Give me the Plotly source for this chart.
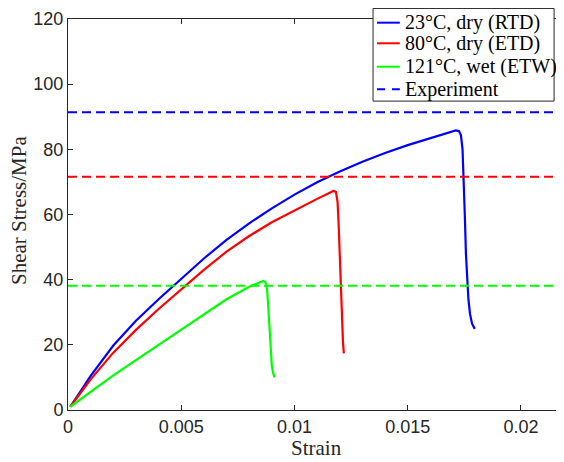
import plotly.graph_objects as go

# RTD (23°C, dry)
rtd_strain = [0.0001, 0.001, 0.002, 0.003, 0.004, 0.005, 0.006, 0.007, 0.008, 0.009, 0.010, 0.011, 0.012, 0.013, 0.014, 0.015, 0.016, 0.0168, 0.01712, 0.01726, 0.01735, 0.01742, 0.01747, 0.01752, 0.01757, 0.01762, 0.01768, 0.01775, 0.01784, 0.01796]
rtd_stress = [1.0, 10.5, 19.8, 27.4, 34.0, 40.4, 46.5, 52.2, 57.3, 61.9, 66.1, 69.9, 73.2, 76.2, 78.9, 81.3, 83.5, 85.1, 85.8, 85.6, 84.3, 80.0, 72.0, 60.0, 48.0, 40.0, 34.0, 29.5, 26.5, 24.9]

# ETD (80°C, dry)
etd_strain = [0.0001, 0.001, 0.002, 0.003, 0.004, 0.005, 0.006, 0.007, 0.008, 0.009, 0.010, 0.011, 0.0116, 0.01172, 0.01183, 0.0119, 0.01195, 0.012, 0.01204, 0.01209, 0.01214, 0.01218]
etd_stress = [1.0, 9.4, 17.6, 24.6, 31.0, 37.0, 43.0, 48.6, 53.4, 57.6, 61.3, 64.8, 66.8, 67.3, 66.9, 64.0, 57.0, 46.0, 38.0, 28.0, 21.0, 17.4]

# ETW (121°C, wet)
etw_strain = [0.0001, 0.001, 0.002, 0.003, 0.004, 0.005, 0.006, 0.007, 0.008, 0.0085, 0.00862, 0.00872, 0.00879, 0.00884, 0.00889, 0.00894, 0.009, 0.00906, 0.00912]
etw_stress = [1.0, 5.6, 10.6, 15.3, 20.0, 24.8, 29.5, 34.0, 37.8, 39.2, 39.6, 39.2, 37.0, 32.0, 25.0, 18.0, 13.5, 11.3, 10.0]

# Experimental strengths
exp_values = [91.4, 71.6, 38.1]
x_range = [0, 0.0219]

names = ["23°C, dry (RTD)", "80°C, dry (ETD)", "121°C, wet (ETW)"]
exp_name = "Experiment"
colors = ["#0000ff", "#ff0000", "#00ff00"]
curves = [(rtd_strain, rtd_stress), (etd_strain, etd_stress), (etw_strain, etw_stress)]

fig = go.Figure()
for (xs, ys), n, c in zip(curves, names, colors):
    fig.add_trace(go.Scatter(x=xs, y=ys, mode="lines", name=n, showlegend=False,
                             line=dict(color=c, width=2.2)))

for i, (v, c) in enumerate(zip(exp_values, colors)):
    fig.add_trace(go.Scatter(x=x_range, y=[v, v], mode="lines",
                             name=exp_name, showlegend=False,
                             line=dict(color=c, width=2, dash="9px,5px")))

axis_common = dict(
    showgrid=False, zeroline=False, showline=True, linecolor="#262626", linewidth=1,
    mirror="ticks", ticks="inside", ticklen=5, tickcolor="#262626", automargin=False,
    tickfont=dict(family="Liberation Sans, Arial", size=18, color="#262626"),
)

title_font = dict(family="Liberation Serif, Times New Roman", size=21, color="#262626")
legend_font = dict(family="Liberation Serif, Times New Roman", size=20, color="#000000")

# compact MATLAB-style legend box (paper coordinates)
leg_x0, leg_x1, leg_y0, leg_y1 = 0.615, 0.98, 0.79, 1.027
row_y = [0.9906, 0.9379, 0.878, 0.8202]
samp_x0, samp_x1, text_x = 0.623, 0.669, 0.675

shapes = [dict(type="rect", xref="paper", yref="paper", x0=leg_x0, x1=leg_x1, y0=leg_y0, y1=leg_y1,
               line=dict(color="#262626", width=1), fillcolor="white", layer="above")]
annotations = [
    dict(text="Strain", xref="paper", yref="paper", x=0.5, y=-0.133,
         xanchor="center", yanchor="bottom", showarrow=False, font=title_font),
    dict(text="Shear Stress/MPa", xref="paper", yref="paper", x=-0.1,
         y=0.51, xanchor="center", yanchor="middle", textangle=-90, showarrow=False, font=title_font),
]
legend_labels = names + [exp_name]
legend_colors = colors + [colors[0]]
legend_dash = ["solid", "solid", "solid", "8px,7px"]
for lab, col, dsh, yy in zip(legend_labels, legend_colors, legend_dash, row_y):
    shapes.append(dict(type="line", xref="paper", yref="paper", x0=samp_x0, x1=samp_x1, y0=yy, y1=yy,
                       line=dict(color=col, width=2, dash=dsh), layer="above"))
    annotations.append(dict(text=lab, xref="paper", yref="paper", x=text_x, y=yy,
                            xanchor="left", yanchor="middle", showarrow=False, font=legend_font))

# page body has an 8px margin, so the figure is 8px smaller than the window
fig.update_layout(
    width=556, height=454,
    margin=dict(l=60, r=0, t=11, b=52),
    paper_bgcolor="white", plot_bgcolor="white",
    xaxis=dict(range=x_range, tickvals=[0, 0.005, 0.01, 0.015, 0.02],
               ticktext=["0", "0.005", "0.01", "0.015", "0.02"], **axis_common),
    yaxis=dict(range=[0, 120], tickvals=[0, 20, 40, 60, 80, 100, 120], **axis_common),
    showlegend=False,
    shapes=shapes,
    annotations=annotations,
)

fig.write_html("out.html")
